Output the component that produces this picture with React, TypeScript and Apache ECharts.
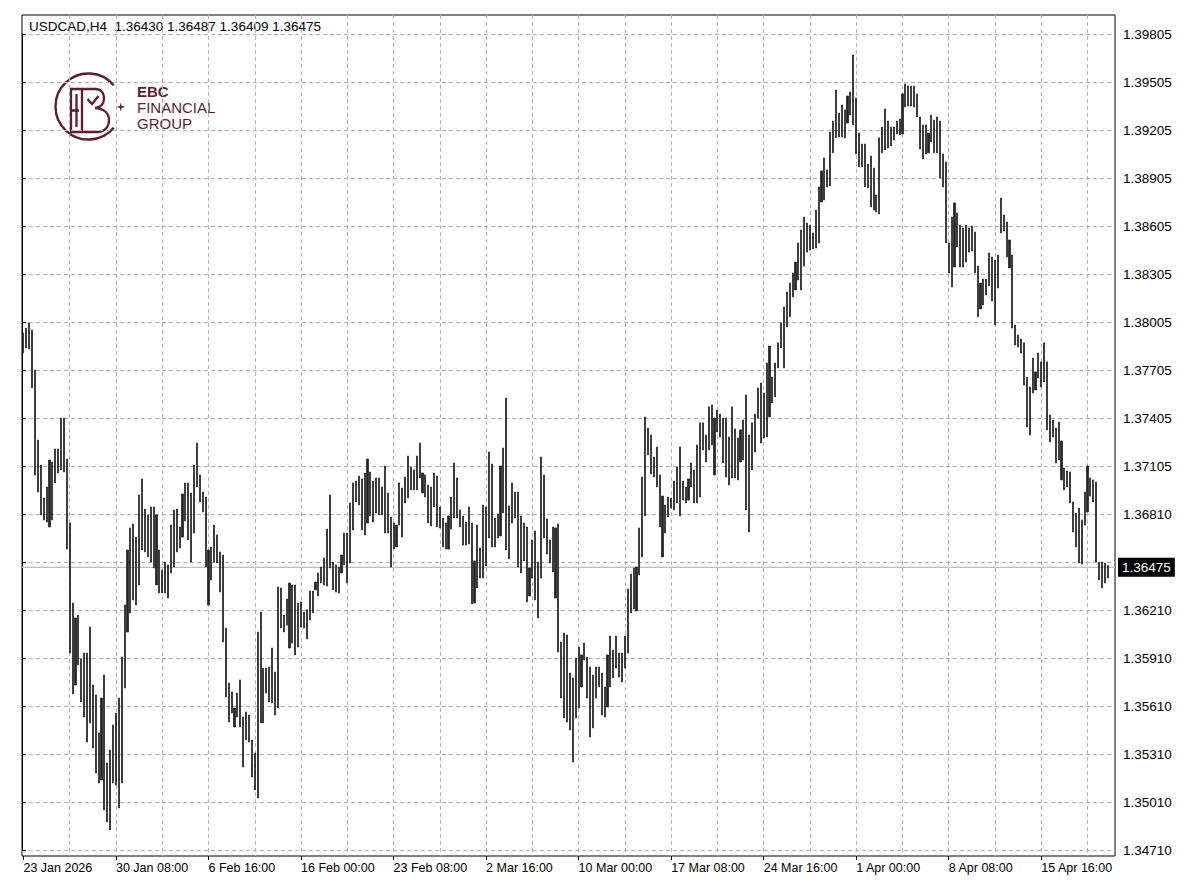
import React, { useEffect, useRef } from "react";
import * as echarts from "echarts";

// ---------- data ----------
const symbolHeader = "USDCAD,H4  1.36430 1.36487 1.36409 1.36475";
const lastPrice = 1.36475;
const lastPriceLabel = "1.36475";

const yTickLabels = [
  "1.34710", "1.35010", "1.35310", "1.35610", "1.35910", "1.36210", "1.36510", "1.36810", "1.37105",
  "1.37405", "1.37705", "1.38005", "1.38305", "1.38605", "1.38905", "1.39205", "1.39505", "1.39805",
];

const highs = [
  1.37938, 1.37969, 1.38001, 1.37957, 1.37707, 1.37270, 1.37114, 1.36908, 1.36977, 1.37145,
  1.37133, 1.37214, 1.37214, 1.37407, 1.37407, 1.37151, 1.36752, 1.36252, 1.36159, 1.36177,
  1.35903, 1.35940, 1.35940, 1.36102, 1.35740, 1.35678, 1.35441, 1.35659, 1.35803, 1.35253,
  1.35334, 1.35491, 1.35565, 1.35659, 1.35915, 1.36240, 1.36583, 1.36721, 1.36746, 1.36664,
  1.36927, 1.37027, 1.36839, 1.36802, 1.36852, 1.36852, 1.36802, 1.36583, 1.36458, 1.36508,
  1.36490, 1.36739, 1.36833, 1.36839, 1.36727, 1.36933, 1.37002, 1.37002, 1.36939, 1.37114,
  1.37251, 1.37052, 1.36945, 1.36914, 1.36583, 1.36602, 1.36739, 1.36677, 1.36571, 1.36552,
  1.36096, 1.35753, 1.35697, 1.35597, 1.35690, 1.35772, 1.35540, 1.35572, 1.35553, 1.35397,
  1.35316, 1.36071, 1.36196, 1.35846, 1.35846, 1.35853, 1.35971, 1.35821, 1.36352, 1.36346,
  1.36177, 1.36277, 1.36377, 1.36365, 1.36365, 1.36252, 1.36259, 1.36196, 1.36210, 1.36327,
  1.36327, 1.36383, 1.36440, 1.36477, 1.36533, 1.36714, 1.36927, 1.36508, 1.36490, 1.36477,
  1.36552, 1.36689, 1.36689, 1.36877, 1.37002, 1.37014, 1.37045, 1.37027, 1.37064, 1.37151,
  1.37070, 1.37014, 1.37033, 1.37033, 1.36977, 1.37108, 1.36939, 1.36789, 1.36752, 1.36739,
  1.37002, 1.36970, 1.37039, 1.37170, 1.37102, 1.37083, 1.37170, 1.37251, 1.37064, 1.37052,
  1.36989, 1.36977, 1.37064, 1.37045, 1.36852, 1.36783, 1.36752, 1.36796, 1.36914, 1.37126,
  1.37033, 1.36833, 1.36796, 1.36758, 1.36852, 1.36752, 1.36515, 1.36739, 1.36596, 1.36864,
  1.36852, 1.37195, 1.37120, 1.36783, 1.36808, 1.37108, 1.37220, 1.37532, 1.36858, 1.37002,
  1.36945, 1.36945, 1.36796, 1.36752, 1.36727, 1.36471, 1.36646, 1.36702, 1.36508, 1.37164,
  1.37052, 1.36777, 1.36646, 1.36727, 1.36721, 1.36746, 1.36009, 1.36065, 1.36053, 1.35815,
  1.35784, 1.35909, 1.35977, 1.35928, 1.36002, 1.35915, 1.35853, 1.35803, 1.35853, 1.35853,
  1.35815, 1.35728, 1.35928, 1.36046, 1.35959, 1.36046, 1.35940, 1.35940, 1.36046, 1.36340,
  1.36433, 1.36471, 1.36477, 1.36721, 1.37039, 1.37414, 1.37345, 1.37301, 1.37164, 1.37226,
  1.37052, 1.36920, 1.36864, 1.36914, 1.36908, 1.37014, 1.37102, 1.37226, 1.37014, 1.36977,
  1.37027, 1.37126, 1.37083, 1.37239, 1.37377, 1.37377, 1.37301, 1.37477, 1.37489, 1.37407,
  1.37457, 1.37432, 1.37407, 1.37407, 1.37289, 1.37477, 1.37339, 1.37283, 1.37333, 1.37395,
  1.37551, 1.37301, 1.37377, 1.37432, 1.37595, 1.37626, 1.37564, 1.37751, 1.37857, 1.37663,
  1.37751, 1.37877, 1.38001, 1.38100, 1.38194, 1.38250, 1.38313, 1.38381, 1.38500, 1.38581,
  1.38662, 1.38625, 1.38612, 1.38563, 1.38706, 1.38850, 1.38950, 1.39031, 1.38956, 1.39193,
  1.39262, 1.39455, 1.39312, 1.39362, 1.39331, 1.39418, 1.39443, 1.39674, 1.39406, 1.39187,
  1.39118, 1.39118, 1.38993, 1.39043, 1.38968, 1.38800, 1.39157, 1.39224, 1.39337, 1.39262,
  1.39224, 1.39224, 1.39262, 1.39274, 1.39431, 1.39493, 1.39480, 1.39480, 1.39480, 1.39431,
  1.39287, 1.39237, 1.39237, 1.39187, 1.39299, 1.39268, 1.39287, 1.39262, 1.39056, 1.39006,
  1.38500, 1.38662, 1.38750, 1.38687, 1.38612, 1.38594, 1.38612, 1.38594, 1.38606, 1.38569,
  1.38356, 1.38250, 1.38275, 1.38275, 1.38438, 1.38413, 1.38394, 1.38425, 1.38781, 1.38675,
  1.38631, 1.38519, 1.38425, 1.37988, 1.37926, 1.37901, 1.37877, 1.37663, 1.37601, 1.37782,
  1.37695, 1.37813, 1.37758, 1.37877, 1.37758, 1.37426, 1.37395, 1.37345, 1.37382, 1.37264,
  1.37095, 1.37077, 1.37070, 1.36883, 1.36814, 1.36845, 1.36771, 1.36945, 1.37108, 1.37033,
  1.37021, 1.37008, 1.36508, 1.36508, 1.36502, 1.36487,
];

const lows = [
  1.37813, 1.37845, 1.37838, 1.37595, 1.37052, 1.36945, 1.36802, 1.36771, 1.36758, 1.36727,
  1.36771, 1.37002, 1.37064, 1.37083, 1.37070, 1.36589, 1.35940, 1.35684, 1.35740, 1.35866,
  1.35634, 1.35540, 1.35384, 1.35503, 1.35347, 1.35191, 1.35128, 1.35147, 1.34960, 1.34885,
  1.34835, 1.35128, 1.35116, 1.34972, 1.35128, 1.35722, 1.36071, 1.36190, 1.36271, 1.36240,
  1.36365, 1.36583, 1.36571, 1.36540, 1.36508, 1.36471, 1.36365, 1.36315, 1.36315, 1.36315,
  1.36283, 1.36440, 1.36477, 1.36571, 1.36596, 1.36664, 1.36765, 1.36646, 1.36508, 1.36689,
  1.36977, 1.36883, 1.36821, 1.36477, 1.36240, 1.36396, 1.36508, 1.36502, 1.36321, 1.36009,
  1.35666, 1.35509, 1.35565, 1.35478, 1.35540, 1.35478, 1.35228, 1.35397, 1.35384, 1.35166,
  1.35085, 1.35035, 1.35503, 1.35503, 1.35690, 1.35634, 1.35628, 1.35553, 1.35597, 1.36096,
  1.36071, 1.36114, 1.35971, 1.36002, 1.35928, 1.35977, 1.36102, 1.36096, 1.36028, 1.36146,
  1.36190, 1.36334, 1.36296, 1.36377, 1.36365, 1.36358, 1.36471, 1.36334, 1.36321, 1.36315,
  1.36440, 1.36490, 1.36377, 1.36502, 1.36708, 1.36883, 1.36864, 1.36708, 1.36677, 1.36752,
  1.36796, 1.36758, 1.36814, 1.36802, 1.36802, 1.36689, 1.36689, 1.36477, 1.36589, 1.36602,
  1.36739, 1.36664, 1.36877, 1.36908, 1.36958, 1.36958, 1.36958, 1.37033, 1.36939, 1.36914,
  1.36752, 1.36733, 1.36852, 1.36727, 1.36721, 1.36602, 1.36589, 1.36589, 1.36714, 1.36783,
  1.36783, 1.36727, 1.36614, 1.36614, 1.36621, 1.36246, 1.36252, 1.36346, 1.36408, 1.36408,
  1.36483, 1.36658, 1.36602, 1.36602, 1.36658, 1.36671, 1.36814, 1.36583, 1.36527, 1.36752,
  1.36783, 1.36477, 1.36440, 1.36515, 1.36259, 1.36296, 1.36408, 1.36271, 1.36159, 1.36408,
  1.36658, 1.36558, 1.36502, 1.36446, 1.36283, 1.35946, 1.35659, 1.35534, 1.35509, 1.35459,
  1.35259, 1.35534, 1.35597, 1.35728, 1.35896, 1.35659, 1.35416, 1.35472, 1.35659, 1.35728,
  1.35553, 1.35540, 1.35603, 1.35728, 1.35784, 1.35846, 1.35790, 1.35759, 1.35846, 1.35940,
  1.36190, 1.36215, 1.36202, 1.36427, 1.36540, 1.36796, 1.37177, 1.37058, 1.37039, 1.36977,
  1.36727, 1.36540, 1.36689, 1.36789, 1.36845, 1.36833, 1.36877, 1.36796, 1.36895, 1.36877,
  1.36895, 1.36977, 1.36877, 1.36877, 1.36914, 1.37208, 1.37133, 1.37208, 1.37239, 1.37052,
  1.37320, 1.37289, 1.37126, 1.37039, 1.36989, 1.37033, 1.37033, 1.37021, 1.37133, 1.37145,
  1.36833, 1.36696, 1.37083, 1.37195, 1.37407, 1.37251, 1.37283, 1.37289, 1.37414, 1.37501,
  1.37539, 1.37720, 1.37845, 1.37720, 1.37976, 1.38039, 1.38163, 1.38207, 1.38269, 1.38207,
  1.38356, 1.38443, 1.38456, 1.38463, 1.38469, 1.38500, 1.38756, 1.38769, 1.38850, 1.38856,
  1.39063, 1.39157, 1.39162, 1.39162, 1.39157, 1.39249, 1.39299, 1.39237, 1.39056, 1.38975,
  1.38975, 1.38850, 1.38844, 1.38725, 1.38706, 1.38694, 1.38681, 1.39063, 1.39081, 1.39093,
  1.39106, 1.39143, 1.39181, 1.39175, 1.39181, 1.39349, 1.39356, 1.39356, 1.39349, 1.39287,
  1.39087, 1.39025, 1.39056, 1.39063, 1.39131, 1.39063, 1.39063, 1.38906, 1.38850, 1.38500,
  1.38313, 1.38225, 1.38350, 1.38475, 1.38350, 1.38350, 1.38381, 1.38443, 1.38450, 1.38313,
  1.38039, 1.38088, 1.38113, 1.38175, 1.38232, 1.38138, 1.37988, 1.38219, 1.38563, 1.38575,
  1.38413, 1.38344, 1.37969, 1.37863, 1.37851, 1.37813, 1.37613, 1.37351, 1.37301, 1.37564,
  1.37582, 1.37657, 1.37601, 1.37632, 1.37333, 1.37258, 1.37289, 1.37126, 1.37145, 1.37021,
  1.36958, 1.36977, 1.36877, 1.36696, 1.36602, 1.36502, 1.36496, 1.36739, 1.36821, 1.36920,
  1.36883, 1.36508, 1.36396, 1.36346, 1.36377, 1.36409,
];

// ---------- categories (H4 bar times, Mon-Fri) ----------
const MONTHS = ["Jan", "Feb", "Mar", "Apr", "May", "Jun", "Jul", "Aug", "Sep", "Oct", "Nov", "Dec"];
const EXTRA_SLOTS = 2;
function buildCategories(n: number): string[] {
  const out: string[] = [];
  let t = Date.UTC(2026, 0, 23, 0, 0);
  while (out.length < n) {
    const d = new Date(t);
    const wd = d.getUTCDay();
    if (wd !== 0 && wd !== 6) {
      const day = d.getUTCDate();
      const mon = MONTHS[d.getUTCMonth()];
      const hh = String(d.getUTCHours()).padStart(2, "0");
      out.push(out.length === 0 ? `${day} ${mon} ${d.getUTCFullYear()}` : `${day} ${mon} ${hh}:00`);
    }
    t += 4 * 3600 * 1000;
  }
  return out;
}
const categories = buildCategories(highs.length + EXTRA_SLOTS);

// ---------- layout ----------
const W = 1200;
const H = 896;
const FRAME_LEFT = 22;
const FRAME_RIGHT = 1115;
const FRAME_TOP = 15;
const FRAME_BOTTOM = 856;
const TOP_TICK_PX = 34;
const BOTTOM_TICK_PX = 850;

const tickMin = parseFloat(yTickLabels[0]);
const tickMax = parseFloat(yTickLabels[yTickLabels.length - 1]);
const tickStep = (tickMax - tickMin) / (yTickLabels.length - 1);
const perPx = (tickMax - tickMin) / (BOTTOM_TICK_PX - TOP_TICK_PX);
const yMinA = tickMin - (FRAME_BOTTOM - BOTTOM_TICK_PX) * perPx;
const yMaxA = tickMax + (TOP_TICK_PX - FRAME_TOP) * perPx;

const FONT = "Liberation Sans";
const FS_X = 12.5;
const FS_NUM = 13.5;
const GRID_COLOR = "#b4b4b4";
const MAROON = "#5b1f2f";

const logoPath =
  "M82 89 L71 89 L71 132 L82 132 M76.5 94 L76.5 127 M71 110.5 L79 110.5 " +
  "M82 89 L95 89 C100.5 89 104 92.5 104 98.5 C104 104 100.5 107.5 95 108 " +
  "C103 108.5 109 112.5 109 120 C109 127.5 104 132 96.5 132 L82 132 Z " +
  "M87.5 99 L92 104 L98.5 96";
echarts.graphic.registerShape("ebcLogo", echarts.graphic.extendPath(logoPath, {}) as any);

function star(cx: number, cy: number, r: number, ri: number): number[][] {
  const pts: number[][] = [];
  for (let k = 0; k < 8; k++) {
    const a = (k * Math.PI) / 4 - Math.PI / 2;
    const rr = k % 2 === 0 ? r : ri;
    pts.push([cx + rr * Math.cos(a), cy + rr * Math.sin(a)]);
  }
  return pts;
}

function buildOption(): any {
  const candleData = highs.map((h, i) => [lows[i], h, lows[i], h]);
  return {
    animation: false,
    backgroundColor: "#ffffff",
    grid: [
      {
        left: FRAME_LEFT,
        right: W - FRAME_RIGHT,
        top: FRAME_TOP,
        bottom: H - FRAME_BOTTOM,
        show: true,
        borderColor: "#000000",
        borderWidth: 1,
        backgroundColor: "transparent",
      },
      {
        left: FRAME_LEFT,
        right: W - FRAME_RIGHT,
        top: TOP_TICK_PX,
        bottom: H - BOTTOM_TICK_PX,
        show: false,
      },
    ],
    xAxis: [
      {
        type: "category",
        gridIndex: 0,
        data: categories,
        boundaryGap: true,
        axisLine: { show: false },
        axisTick: {
          show: true,
          interval: (i: number) => i % 32 === 0,
          alignWithLabel: true,
          length: 4,
          lineStyle: { color: "#000" },
        },
        axisLabel: {
          interval: (i: number) => i % 32 === 0,
          align: "left",
          color: "#000",
          fontFamily: FONT,
          fontSize: FS_X,
          margin: 5,
        },
        splitLine: {
          show: true,
          interval: (i: number) => i > 0 && i % 16 === 0,
          alignWithLabel: true,
          lineStyle: { color: GRID_COLOR, type: [4, 3], width: 1 },
        },
      },
      { type: "value", gridIndex: 1, show: false, min: 0, max: 1 },
    ],
    yAxis: [
      { type: "value", gridIndex: 0, min: yMinA, max: yMaxA, show: false },
      {
        type: "value",
        gridIndex: 1,
        position: "right",
        min: tickMin,
        max: tickMax,
        interval: tickStep,
        axisLine: { show: true, lineStyle: { color: "#000" } },
        axisTick: { show: true, length: 4, lineStyle: { color: "#000" } },
        axisLabel: {
          color: "#000",
          fontFamily: FONT,
          fontSize: FS_NUM,
          margin: 8,
          formatter: (v: number) => {
            const idx = Math.round((v - tickMin) / tickStep);
            return yTickLabels[idx] ?? "";
          },
        },
        splitLine: { show: true, lineStyle: { color: GRID_COLOR, type: [4, 3], width: 1 } },
      },
    ],
    series: [
      {
        type: "line",
        xAxisIndex: 1,
        yAxisIndex: 1,
        z: 1,
        silent: true,
        symbol: "none",
        data: [
          [0, lastPrice],
          [1, lastPrice],
        ],
        lineStyle: { color: "#c0c0c0", width: 1.2, type: "solid" },
        endLabel: {
          show: true,
          formatter: lastPriceLabel,
          color: "#ffffff",
          backgroundColor: "#000000",
          padding: [3, 4, 2, 4],
          fontFamily: FONT,
          fontSize: FS_NUM,
          distance: 3,
        },
      },
      {
        type: "candlestick",
        xAxisIndex: 0,
        yAxisIndex: 0,
        z: 3,
        data: candleData,
        barWidth: 1.6,
        itemStyle: {
          color: "#262626",
          color0: "#262626",
          borderColor: "#1a1a1a",
          borderColor0: "#1a1a1a",
          borderWidth: 0.7,
        },
      },
    ],
    graphic: [
      {
        type: "text",
        silent: true,
        style: {
          text: symbolHeader,
          x: 29,
          y: 26,
          fill: "#000",
          fontFamily: FONT,
          fontSize: FS_NUM,
          verticalAlign: "middle",
        },
      },
      {
        type: "arc",
        silent: true,
        shape: {
          cx: 88.5,
          cy: 106.5,
          r: 33,
          startAngle: (40 * Math.PI) / 180,
          endAngle: (320 * Math.PI) / 180,
          clockwise: true,
        },
        style: { stroke: MAROON, lineWidth: 2.4, fill: "none" },
      },
      {
        type: "polygon",
        silent: true,
        shape: { points: star(120.8, 107, 4.5, 1.3) },
        style: { fill: MAROON },
      },
      {
        type: "ebcLogo",
        silent: true,
        x: 0,
        y: 0,
        style: { stroke: MAROON, lineWidth: 2.3, fill: "none" },
      },
      {
        type: "text",
        silent: true,
        style: { text: "EBC", x: 137, y: 91, fill: MAROON, fontFamily: FONT, fontSize: 15, fontWeight: "bold", verticalAlign: "middle" },
      },
      {
        type: "text",
        silent: true,
        style: { text: "FINANCIAL", x: 137, y: 107, fill: MAROON, fontFamily: FONT, fontSize: 15, verticalAlign: "middle" },
      },
      {
        type: "text",
        silent: true,
        style: { text: "GROUP", x: 137, y: 123, fill: MAROON, fontFamily: FONT, fontSize: 15, verticalAlign: "middle" },
      },
    ],
  };
}

export default function App() {
  const ref = useRef<HTMLDivElement>(null);
  useEffect(() => {
    document.body.style.margin = "0";
    if (!ref.current) return;
    const chart = echarts.init(ref.current, null, { renderer: "svg" });
    chart.setOption(buildOption());
    return () => {
      chart.dispose();
    };
  }, []);
  return <div ref={ref} style={{ width: W, height: H, background: "#fff" }} />;
}
